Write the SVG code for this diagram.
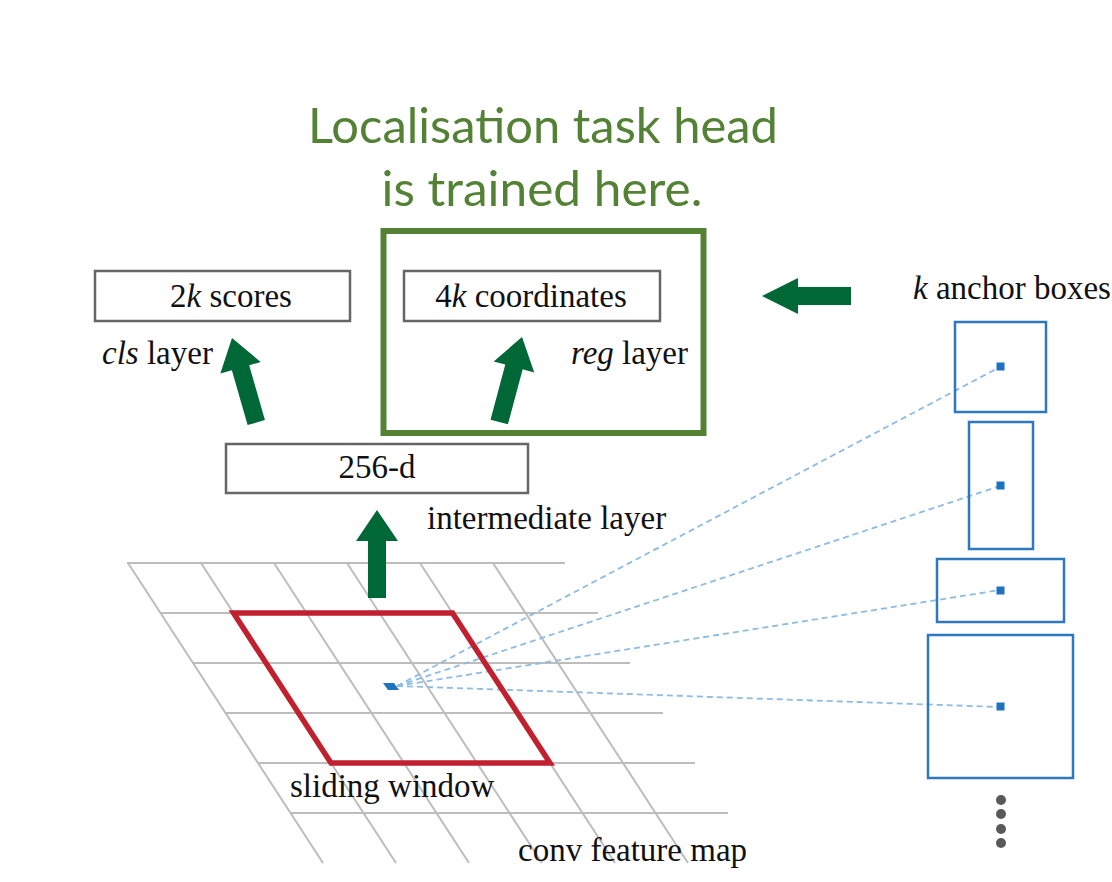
<svg xmlns="http://www.w3.org/2000/svg" width="1112" height="882" viewBox="0 0 1112 882">
<style>
.serif{font-family:"Liberation Serif","Times New Roman",serif;font-size:33px;fill:#111}
.title{font-family:Lato,"Open Sans",sans-serif;font-size:48px;fill:#548235}
.box{fill:#fff;stroke:#666;stroke-width:2.5}
.grid line{stroke:#bdbdbd;stroke-width:2}
.anchor{fill:none;stroke:#2e78c0;stroke-width:2.5}
.ctr{fill:#1f72bf}
.dash{stroke:#8dbbe4;stroke-width:1.8;stroke-dasharray:6 4;fill:none}
.garrow{fill:#006837}
</style>
<defs>
<path id="uparrow" d="M0,0 L21,31 L9,31 L9,88 L-9,88 L-9,31 L-21,31 Z"/>
</defs>
<rect width="1112" height="882" fill="#fff"/>

<g id="title">
<text class="title" x="543" y="143" text-anchor="middle" textLength="470" lengthAdjust="spacingAndGlyphs">Localisation task head</text>
<text class="title" x="542" y="206" text-anchor="middle" textLength="321" lengthAdjust="spacingAndGlyphs">is trained here.</text>
</g>

<g id="feature-map" class="grid">
<line x1="127" y1="563" x2="565" y2="563"/>
<line x1="160" y1="613" x2="598" y2="613"/>
<line x1="193" y1="663" x2="630" y2="663"/>
<line x1="226" y1="713" x2="663" y2="713"/>
<line x1="258" y1="763" x2="695" y2="763"/>
<line x1="291" y1="813" x2="728" y2="813"/>
<line x1="128" y1="563" x2="323" y2="863"/>
<line x1="201" y1="563" x2="396" y2="863"/>
<line x1="274" y1="563" x2="469" y2="863"/>
<line x1="347" y1="563" x2="542" y2="863"/>
<line x1="420" y1="563" x2="615" y2="863"/>
<line x1="493" y1="563" x2="688" y2="863"/>
</g>

<g id="connectors">
<path class="dash" d="M397,686 L1000,367"/>
<path class="dash" d="M397,686 L1000,486"/>
<path class="dash" d="M397,686 L1000,590"/>
<path class="dash" d="M397,686 L1000,707"/>
<use href="#uparrow" class="garrow" transform="translate(377,510)"/>
<use href="#uparrow" class="garrow" transform="translate(232,338) rotate(-16)"/>
<use href="#uparrow" class="garrow" transform="translate(522,337) rotate(15)"/>
<path class="garrow" d="M762,296 L798,278 L798,287 L851,287 L851,305 L798,305 L798,314 Z"/>
</g>

<g id="sliding-window">
<polygon points="233.5,613 452.5,613 550,763 331,763" fill="none" stroke="#c1202f" stroke-width="5.5" stroke-linejoin="miter"/>
<polygon class="ctr" points="383,683 394,683 399,690 388,690"/>
<text class="serif" x="290" y="797">sliding window</text>
</g>
<g id="conv-label"><text class="serif" x="518" y="861">conv feature map</text></g>

<g id="cls-box">
<rect class="box" x="95" y="271" width="255" height="50"/>
<text class="serif" x="231" y="307" text-anchor="middle">2<tspan font-style="italic">k</tspan> scores</text>
<text class="serif" x="102" y="364"><tspan font-style="italic">cls</tspan> layer</text>
</g>

<g id="reg-head">
<rect x="383.5" y="231" width="320" height="202" fill="none" stroke="#548235" stroke-width="6"/>
</g>
<g id="reg-box">
<rect class="box" x="404" y="271" width="256" height="50"/>
<text class="serif" x="531" y="307" text-anchor="middle">4<tspan font-style="italic">k</tspan> coordinates</text>
<text class="serif" x="688" y="364" text-anchor="end"><tspan font-style="italic">reg</tspan> layer</text>
</g>

<g id="intermediate">
<rect class="box" x="226" y="444" width="302" height="49"/>
<text class="serif" x="377" y="478" text-anchor="middle">256-d</text>
<text class="serif" x="427" y="529">intermediate layer</text>
</g>

<g id="anchors">
<text class="serif" x="913" y="299"><tspan font-style="italic">k</tspan> anchor boxes</text>
<rect class="anchor" x="955" y="322" width="91" height="90"/>
<rect class="anchor" x="969" y="422" width="64" height="127"/>
<rect class="anchor" x="937" y="559" width="127" height="63"/>
<rect class="anchor" x="928" y="635" width="145" height="143"/>
<rect class="ctr" x="996.5" y="362.5" width="8" height="8"/>
<rect class="ctr" x="996.5" y="481.5" width="8" height="8"/>
<rect class="ctr" x="996.5" y="586.5" width="8" height="8"/>
<rect class="ctr" x="996.5" y="702.5" width="8" height="8"/>
<g fill="#595959">
<circle cx="1001" cy="800" r="5"/>
<circle cx="1001" cy="814" r="5"/>
<circle cx="1001" cy="829" r="5"/>
<circle cx="1001" cy="843" r="5"/>
</g>
</g>
</svg>
